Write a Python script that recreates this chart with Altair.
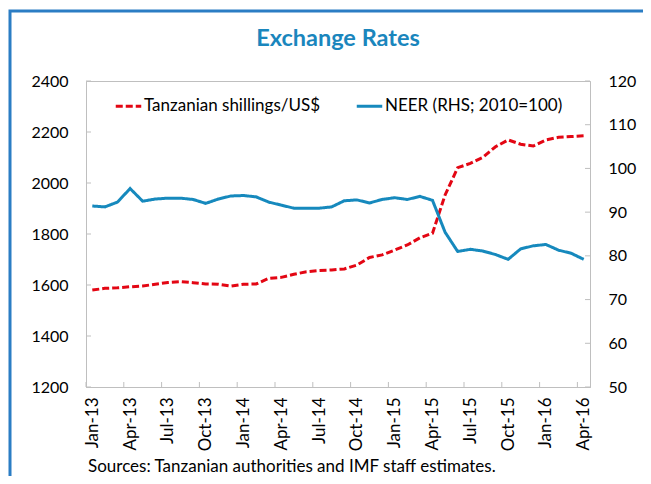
import altair as alt
import pandas as pd

months = ["Jan-13","Feb-13","Mar-13","Apr-13","May-13","Jun-13","Jul-13","Aug-13","Sep-13","Oct-13","Nov-13","Dec-13",
          "Jan-14","Feb-14","Mar-14","Apr-14","May-14","Jun-14","Jul-14","Aug-14","Sep-14","Oct-14","Nov-14","Dec-14",
          "Jan-15","Feb-15","Mar-15","Apr-15","May-15","Jun-15","Jul-15","Aug-15","Sep-15","Oct-15","Nov-15","Dec-15",
          "Jan-16","Feb-16","Mar-16","Apr-16"]

tzs = [1580, 1587, 1589, 1593, 1596, 1603, 1610, 1613, 1609, 1604, 1603, 1596,
       1603, 1604, 1626, 1630, 1642, 1652, 1657, 1659, 1663, 1678, 1708, 1718,
       1737, 1757, 1785, 1803, 1953, 2060, 2077, 2101, 2142, 2169, 2152, 2145,
       2169, 2179, 2182, 2185]

neer = [91.4, 91.2, 92.3, 95.4, 92.5, 93.0, 93.2, 93.2, 92.9, 92.0, 93.0, 93.7,
        93.8, 93.5, 92.3, 91.6, 90.9, 90.9, 90.9, 91.2, 92.6, 92.8, 92.1, 92.9,
        93.3, 92.9, 93.6, 92.7, 85.4, 81.0, 81.5, 81.1, 80.3, 79.2, 81.6, 82.3,
        82.6, 81.3, 80.6, 79.2]

series_names = ["Tanzanian shillings/US$", "NEER (RHS; 2010=100)"]
left_ticks = [1200, 1400, 1600, 1800, 2000, 2200, 2400]
right_ticks = [50, 60, 70, 80, 90, 100, 110, 120]
label_idx = list(range(0, 40, 3))

W, H = 504, 306
PAD_R = 53
RED = "#e30613"
BLUE = "#1689bd"
GRAY = "#bfbfbf"
FONT = "Lato"

n = len(months)
long = pd.DataFrame({
    "i": list(range(n)) * 2,
    "series": [series_names[0]] * n + [series_names[1]] * n,
    "value": tzs + neer,
})

xscale = alt.Scale(domain=[-0.5, n - 0.5], nice=False, zero=False)
label_js = "[" + ",".join('"%s"' % m for m in months) + "][datum.value]"
xaxis = alt.Axis(values=label_idx, labelExpr=label_js, labelAngle=270, labelAlign="right",
                 labelBaseline="middle", labelPadding=10, ticks=False, grid=False, title=None,
                 domainColor=GRAY, labelFontSize=17, labelColor="#000", labelFont=FONT,
                 labelOverlap=False, labelFontWeight="normal")

lscale = alt.Scale(domain=[1200, 2400], nice=False, zero=False)
rscale = alt.Scale(domain=[50, 120], nice=False, zero=False)
laxis = alt.Axis(values=left_ticks, orient="left", ticks=False, grid=False, title=None, domainColor=GRAY,
                 labelPadding=18, labelFontSize=16, labelColor="#000", labelFont=FONT, format="d")
raxis = alt.Axis(values=right_ticks, orient="right", ticks=False, grid=False, title=None, domainColor=GRAY,
                 labelPadding=18, labelFontSize=16, labelColor="#000", labelFont=FONT, format="d")

legend = alt.Legend(orient="none", legendX=28, legendY=10.5, direction="horizontal", title=None,
                    symbolType="stroke", symbolSize=650, symbolStrokeWidth=3, labelFontSize=17,
                    labelFont=FONT, labelColor="#000", columnPadding=29, labelOffset=1, padding=0,
                    labelLimit=400)
color = alt.Color("series:N", scale=alt.Scale(domain=series_names, range=[RED, BLUE]), legend=legend)
dash = alt.StrokeDash("series:N", scale=alt.Scale(domain=series_names, range=[[7, 3], [1, 0]]), legend=legend)

red = alt.Chart(long).transform_filter(alt.datum.series == series_names[0]).mark_line(strokeWidth=3).encode(
    x=alt.X("i:Q", scale=xscale, axis=xaxis),
    y=alt.Y("value:Q", scale=lscale, axis=laxis),
    color=color, strokeDash=dash)

blue = alt.Chart(long).transform_filter(alt.datum.series == series_names[1]).mark_line(strokeWidth=3).encode(
    x=alt.X("i:Q", scale=xscale, axis=xaxis),
    y=alt.Y("value:Q", scale=rscale, axis=raxis),
    color=color, strokeDash=dash)

lt = alt.Chart(pd.DataFrame({"value": left_ticks})).mark_rule(color=GRAY).encode(
    y=alt.Y("value:Q", scale=lscale, axis=laxis), x=alt.value(0), x2=alt.value(5))
rt = alt.Chart(pd.DataFrame({"value": right_ticks})).mark_rule(color=GRAY).encode(
    y=alt.Y("value:Q", scale=rscale, axis=raxis), x=alt.value(W - 5), x2=alt.value(W))
xt = alt.Chart(pd.DataFrame({"i": [k - 0.5 for k in label_idx]})).mark_rule(color=GRAY).encode(
    x=alt.X("i:Q", scale=xscale, axis=xaxis), y=alt.value(H - 5), y2=alt.value(H))

frame = alt.Chart(pd.DataFrame({"a": [0]})).mark_rect(fill=None, stroke="#2b7dc4", strokeWidth=3).encode(
    x=alt.value(-76), x2=alt.value(W + PAD_R + 40), y=alt.value(-70), y2=alt.value(H + 140))

title = alt.Chart(pd.DataFrame({"t": ["Exchange Rates"]})).mark_text(
    font=FONT, fontSize=23.5, fontWeight="bold", color="#1a86bd", align="center", baseline="alphabetic").encode(
    text="t:N", x=alt.value(W / 2), y=alt.value(-35))
footer = alt.Chart(pd.DataFrame({"t": ["Sources: Tanzanian authorities and IMF staff estimates."]})).mark_text(
    font=FONT, fontSize=17, color="#000", align="left", baseline="alphabetic").encode(
    text="t:N", x=alt.value(2), y=alt.value(391))

left = alt.layer(red, lt, xt)
right = alt.layer(blue, rt)

chart = alt.layer(left, right, frame, title, footer).resolve_scale(y="independent").properties(
    width=W, height=H,
    padding={"left": 78, "top": 73, "right": PAD_R, "bottom": 89},
    autosize=alt.AutoSizeParams(type="none"),
).configure_view(stroke=GRAY)

chart.save("out.html", embed_options={"renderer": "svg", "actions": False})
